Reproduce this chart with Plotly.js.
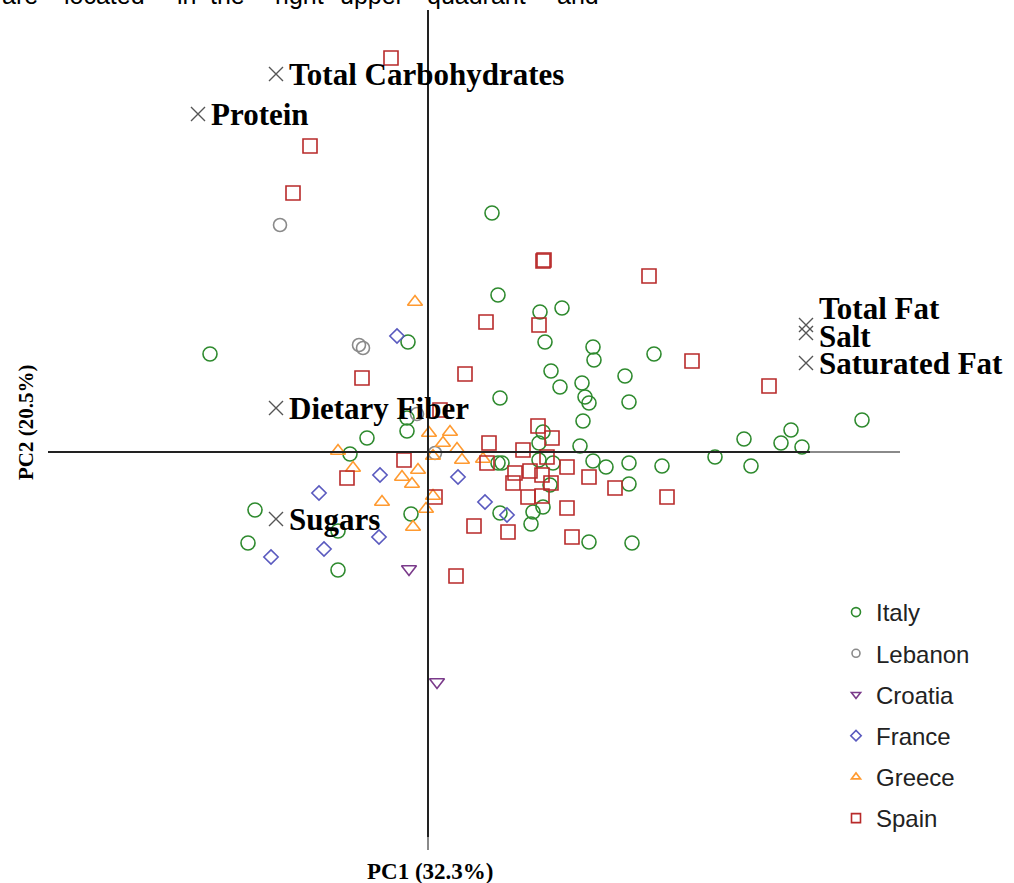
<!DOCTYPE html>
<html>
<head>
<meta charset="utf-8">
<script src="https://cdn.plot.ly/plotly-3.0.1.min.js"></script>
<style>html,body{margin:0;padding:0;background:#fff;}#chart{width:1014px;height:883px;}</style>
</head>
<body>
<div id="chart"></div>
<script>
// PCA scores (PC1, PC2) per country
const italyX = [0.64,0.70,1.12,1.34,1.17,1.65,1.66,2.26,1.23,1.32,1.54,1.97,1.57,1.61,2.01,0.72,-0.20,-2.18,1.55,1.15,1.11,1.52,-0.21,-0.21,-0.61,-0.78,0.74,0.70,1.11,1.25,1.65,1.78,2.01,2.34,2.87,3.16,3.23,3.53,3.63,3.74,4.34,1.22,1.15,1.05,1.03,2.01,1.61,2.04,0.72,-0.17,-1.73,-1.80,-0.90,-0.90];
const italyY = [2.39,1.57,1.40,1.44,1.10,1.05,0.92,0.98,0.81,0.65,0.69,0.76,0.55,0.49,0.50,0.54,1.10,0.98,0.31,0.20,0.09,0.06,0.34,0.21,0.14,-0.02,-0.11,-0.11,-0.08,-0.11,-0.09,-0.15,-0.11,-0.14,-0.05,0.13,-0.14,0.09,0.22,0.05,0.32,-0.33,-0.55,-0.60,-0.72,-0.32,-0.90,-0.91,-0.61,-0.62,-0.58,-0.91,-0.79,-1.18];
const lebanonX = [-1.48,-0.69,-0.65,-0.11,0.07];
const lebanonY = [2.27,1.07,1.04,0.38,-0.01];
const croatiaX = [-0.19,0.09];
const croatiaY = [-1.17,-2.30];
const franceX = [-0.31,-0.48,-1.09,-1.57,-1.04,-0.49,0.30,0.57,0.79];
const franceY = [1.16,-0.23,-0.41,-1.05,-0.97,-0.85,-0.25,-0.50,-0.63];
const greeceX = [-0.13,-0.90,-0.75,-0.46,-0.26,-0.16,-0.10,-0.15,-0.02,0.05,0.01,0.22,0.15,0.29,0.34,0.55,0.05];
const greeceY = [1.50,0.01,-0.16,-0.50,-0.25,-0.32,-0.18,-0.75,-0.57,-0.44,0.19,0.20,0.09,0.03,-0.08,-0.07,-0.04];
const spainX = [-0.37,-1.18,-1.35,1.15,1.16,2.21,0.58,1.11,2.64,0.37,-0.66,3.41,0.12,1.10,1.24,0.61,0.95,1.19,-0.24,0.59,1.39,0.87,1.02,1.14,0.85,1.23,1.61,-0.81,1.87,1.00,1.14,2.39,0.07,1.39,0.46,0.80,1.44,0.28];
const spainY = [3.94,3.06,2.59,1.91,1.92,1.76,1.30,1.27,0.91,0.78,0.74,0.66,0.42,0.26,0.14,0.09,0.02,-0.05,-0.08,-0.11,-0.15,-0.21,-0.19,-0.23,-0.31,-0.31,-0.25,-0.26,-0.36,-0.45,-0.44,-0.45,-0.45,-0.56,-0.74,-0.80,-0.85,-1.24];

// Loadings
const loadingNames = ["Total Carbohydrates","Protein","Dietary Fiber","Sugars","Total Fat","Salt","Saturated Fat"];
const loadingX = [-1.52,-2.30,-1.52,-1.52,3.78,3.78,3.78];
const loadingY = [3.78,3.38,0.44,-0.67,1.27,1.19,0.89];
const loadingLabelShift = [0,0,0,0,17,-3,0];

const countries = ["Italy","Lebanon","Croatia","France","Greece","Spain"];
const xs = [italyX,lebanonX,croatiaX,franceX,greeceX,spainX];
const ys = [italyY,lebanonY,croatiaY,franceY,greeceY,spainY];
const colors = ["#2e8a2e","#8a8a8a","#7a3a8a","#5a5abf","#ff9a30","#b82a2a"];
const symbols = ["circle-open","circle-open","triangle-down-open","diamond-open","triangle-up-open","square-open"];
const sizes = [14,13,13,11,13,14];
const legendSizes = [9,8,8,8,8,9];

const traces = [];
countries.forEach((c,i)=>{
  traces.push({
    type:"scatter", mode:"markers", x:xs[i], y:ys[i], name:c, showlegend:false,
    marker:{symbol:symbols[i], size:sizes[i], color:colors[i], line:{color:colors[i], width:1.6}},
    hoverinfo:"name"
  });
});
traces.push({
  type:"scatter", mode:"markers", x:loadingX, y:loadingY, text:loadingNames, showlegend:false,
  marker:{symbol:"x-thin-open", size:14, color:"#555", line:{color:"#555", width:1.4}},
  hoverinfo:"text"
});
countries.forEach((c,i)=>{
  traces.push({
    type:"scatter", mode:"markers", x:[null], y:[null], name:c, legendgroup:c, showlegend:true,
    marker:{symbol:symbols[i], size:legendSizes[i], color:colors[i], line:{color:colors[i], width:1.6}}
  });
});

const W=1014, H=883;
const annotations = [];
loadingNames.forEach((n,i)=>{
  annotations.push({text:"<b>"+n+"</b>", xref:"x", yref:"y", x:loadingX[i], y:loadingY[i], xanchor:"left", yanchor:"middle",
    xshift:11, yshift:loadingLabelShift[i], showarrow:false,
    font:{family:"Liberation Serif, Times New Roman, serif", size:31, color:"#000"}});
});
const topWords = ["are","located","in","the","right","upper","quadrant","and"];
const topWordX = [0,62,175,208,273,338,425,555];
topWords.forEach((w,i)=>annotations.push({
  text:w, xref:"paper", yref:"paper", x:topWordX[i]/W, y:1+5/H, xanchor:"left", yanchor:"middle",
  showarrow:false, font:{family:"Liberation Sans, Arial, sans-serif", size:25, color:"#000"}
}));
annotations.push({text:"<b>PC1 (32.3%)</b>", xref:"paper", yref:"paper", x:430/W, y:1-871/H, xanchor:"center", yanchor:"middle", showarrow:false, font:{family:"Liberation Serif, Times New Roman, serif", size:23, color:"#000"}});
annotations.push({text:"<b>PC2 (20.5%)</b>", xref:"paper", yref:"paper", x:26/W, y:1-423/H, xanchor:"center", yanchor:"middle", textangle:-90, showarrow:false, font:{family:"Liberation Serif, Times New Roman, serif", size:21, color:"#000"}});

const layout = {
  width:W, height:H, margin:{l:0,r:0,t:0,b:0}, paper_bgcolor:"#fff", plot_bgcolor:"#fff",
  xaxis:{range:[-4.28,5.86], visible:false, showgrid:false, zeroline:false},
  yaxis:{range:[-4.31,4.52], visible:false, showgrid:false, zeroline:false},
  showlegend:true,
  legend:{x:836/W, y:1-590/H, xanchor:"left", yanchor:"top", traceorder:"grouped", tracegroupgap:7,
    font:{family:"Liberation Sans, Arial, sans-serif", size:24, color:"#222"}, bgcolor:"rgba(0,0,0,0)"},
  shapes:[
    {type:"line", xref:"x", yref:"y", x0:-3.80, x1:3.82, y0:0, y1:0, line:{color:"#222", width:2}},
    {type:"line", xref:"x", yref:"y", x0:3.82, x1:4.72, y0:0, y1:0, line:{color:"#8a8a8a", width:2}},
    {type:"line", xref:"x", yref:"y", x0:0, x1:0, y0:4.42, y1:-3.85, line:{color:"#222", width:2}},
    {type:"line", xref:"x", yref:"y", x0:0, x1:0, y0:-3.85, y1:-3.98, line:{color:"#8a8a8a", width:2}}
  ],
  annotations:annotations
};
Plotly.newPlot("chart", traces, layout, {displayModeBar:false, staticPlot:true});
</script>
</body>
</html>
